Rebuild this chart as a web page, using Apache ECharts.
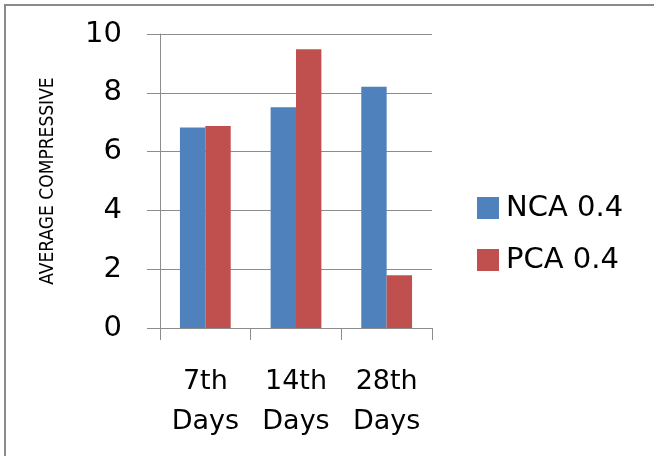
<!DOCTYPE html>
<html>
<head>
<meta charset="utf-8">
<script src="https://cdn.jsdelivr.net/npm/echarts@6/dist/echarts.min.js"></script>
<style>
html,body{margin:0;padding:0;background:#fff;}
#chart{width:654px;height:456px;}
</style>
</head>
<body>
<div id="chart"></div>
<script>
var categories = ['7th\nDays', '14th\nDays', '28th\nDays'];
var seriesNames = ['NCA 0.4', 'PCA 0.4'];
var ncaValues = [6.82, 7.51, 8.21];
var pcaValues = [6.87, 9.48, 1.79];
var yTicks = { min: 0, max: 10, interval: 2 };
var yAxisTitle = 'AVERAGE COMPRESSIVE';

var FONT = '"DejaVu Sans", sans-serif';
var chart = echarts.init(document.getElementById('chart'));
chart.setOption({
  animation: false,
  backgroundColor: '#ffffff',
  graphic: [{
    type: 'rect',
    shape: { x: 5, y: 5, width: 700, height: 500 },
    style: { fill: 'none', stroke: '#8a8a8a', lineWidth: 2 },
    silent: true
  }],
  grid: { left: 160, right: 222, top: 34, bottom: 128 },
  legend: {
    orient: 'vertical',
    left: 472,
    top: 188,
    itemWidth: 22,
    itemHeight: 22,
    itemGap: 22,
    icon: 'rect',
    textStyle: { fontSize: 29, fontFamily: FONT, color: '#000', lineHeight: 30, padding: [0, 0, 0, 2] },
    data: seriesNames
  },
  xAxis: {
    type: 'category',
    data: categories,
    boundaryGap: true,
    axisLine: { show: true, lineStyle: { color: '#8c8c8c', width: 1 } },
    axisTick: { show: true, length: 12, lineStyle: { color: '#8c8c8c' } },
    axisLabel: { fontSize: 27, lineHeight: 40, margin: 34, color: '#000', fontFamily: FONT, interval: 0 }
  },
  yAxis: {
    type: 'value',
    min: yTicks.min,
    max: yTicks.max,
    interval: yTicks.interval,
    name: yAxisTitle,
    nameLocation: 'middle',
    nameRotate: 90,
    nameGap: 102,
    nameTextStyle: { fontSize: 19, fontFamily: '"DejaVu Sans Condensed", "DejaVu Sans", sans-serif', color: '#000' },
    axisLine: { show: true, lineStyle: { color: '#8c8c8c', width: 1 } },
    axisTick: { show: true, length: 13, lineStyle: { color: '#8c8c8c' } },
    splitLine: { show: true, lineStyle: { color: '#8c8c8c', width: 1 } },
    axisLabel: { fontSize: 29, margin: 38, color: '#000', fontFamily: FONT }
  },
  series: [
    {
      name: seriesNames[0], type: 'bar', data: ncaValues,
      barGap: '0%', barCategoryGap: '44%',
      itemStyle: { color: '#4F81BD' }
    },
    {
      name: seriesNames[1], type: 'bar', data: pcaValues,
      barGap: '0%', barCategoryGap: '44%',
      itemStyle: { color: '#C0504D' }
    }
  ]
});
</script>
</body>
</html>
